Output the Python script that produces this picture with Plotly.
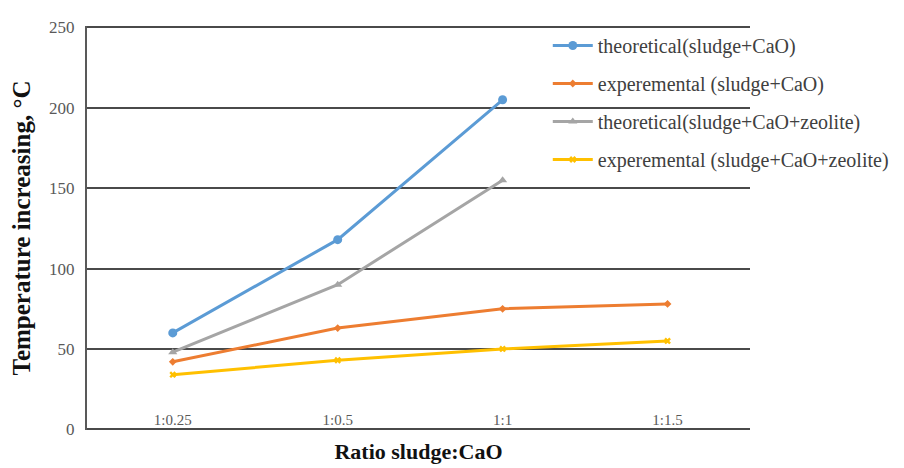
import plotly.graph_objects as go

categories = ["1:0.25", "1:0.5", "1:1", "1:1.5"]
theo_cao = [60, 118, 205, None]
exp_cao = [42, 63, 75, 78]
theo_zeo = [48, 90, 155, None]
exp_zeo = [34, 43, 50, 55]

names = [
    "theoretical(sludge+CaO)",
    "experemental (sludge+CaO)",
    "theoretical(sludge+CaO+zeolite)",
    "experemental (sludge+CaO+zeolite)",
]
colors = ["#5B9BD5", "#ED7D31", "#A5A5A5", "#FFC000"]
symbols = ["circle", "diamond", "triangle-up", "x"]
sizes = [9, 6, 8, 6]
series = [theo_cao, exp_cao, theo_zeo, exp_zeo]

fig = go.Figure()
for i, (nm, vals, col, sym, sz) in enumerate(zip(names, series, colors, symbols, sizes)):
    fig.add_trace(go.Scatter(
        x=categories, y=vals, name=nm, mode="lines+markers",
        line=dict(color=col, width=3),
        marker=dict(symbol=sym, size=sz, color=col, line=dict(width=0)),
        legendgroup=f"g{i}",
    ))

fig.update_layout(
    width=904, height=468,
    margin=dict(l=79, r=162, t=18, b=46),
    paper_bgcolor="white", plot_bgcolor="white",
    font=dict(family="Liberation Serif", color="#404040", size=14),
    showlegend=True,
    legend=dict(x=0.695, y=1.0, xanchor="left", yanchor="top",
                bgcolor="rgba(0,0,0,0)", tracegroupgap=9,
                font=dict(family="Liberation Serif", size=20, color="#404040"),
                itemwidth=40),
    xaxis=dict(
        type="category", range=[-0.52, 3.5], automargin=False,
        anchor="free", position=0.052,
        showgrid=False, zeroline=False, showline=False,
        ticks="",
        tickfont=dict(family="Liberation Serif", size=15, color="#595959"),
        title=dict(text="<b>Ratio sludge:CaO</b>", standoff=16,
                   font=dict(family="Liberation Serif", size=22, color="#111111")),
    ),
    yaxis=dict(
        range=[-0.4, 250.9], tick0=0, dtick=50, automargin=False,
        showgrid=True, gridcolor="#4a4a4a", gridwidth=2,
        zeroline=True, zerolinecolor="#4a4a4a", zerolinewidth=2,
        showline=True, linecolor="#595959", linewidth=2,
        ticklabelstandoff=7,
        tickfont=dict(family="Liberation Serif", size=17, color="#595959"),
        title=dict(text="<b>Temperature increasing, °C</b>", standoff=12,
                   font=dict(family="Liberation Serif", size=25, color="#111111")),
    ),
)

fig.write_html("out.html")
